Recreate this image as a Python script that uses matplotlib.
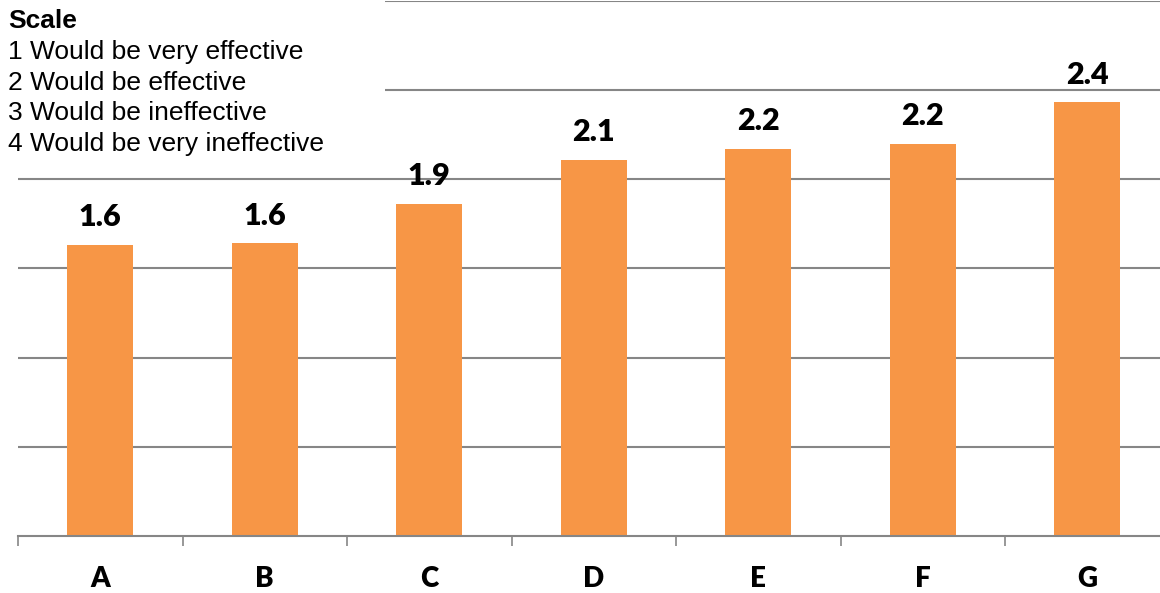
import matplotlib
matplotlib.use("Agg")
import matplotlib.pyplot as plt
from matplotlib.patches import Rectangle

# Mean effectiveness rating per option (1 = very effective ... 4 = very ineffective)
categories = ["A", "B", "C", "D", "E", "F", "G"]
mean_scores = [1.63, 1.64, 1.86, 2.11, 2.17, 2.20, 2.43]

scale_title = "Scale"
scale_lines = [
    "1 Would be very effective",
    "2 Would be effective",
    "3 Would be ineffective",
    "4 Would be very ineffective",
]

W, H = 1160, 593
fig = plt.figure(figsize=(W / 100, H / 100), dpi=100)

# axes spans from x=18px to slightly past the right edge, baseline at y=536px
left, right = 18 / W, 1169.5 / W
bottom, top = (H - 536) / H, (H - 0.8) / H
ax = fig.add_axes([left, bottom, right - left, top - bottom])

bar_color = "#F79646"
grid_color = "#868686"
label_font = "Lato"

x = list(range(len(categories)))
bars = ax.bar(x, mean_scores, width=0.4, color=bar_color, zorder=2)

ax.set_xlim(-0.5, len(categories) - 0.5)
ax.set_ylim(0, 3)
ax.set_yticks([0.5, 1.0, 1.5, 2.0, 2.5, 3.0])
ax.yaxis.grid(True, color=grid_color, linewidth=1.5, zorder=0)
ax.set_axisbelow(True)
ax.tick_params(axis="y", left=False, labelleft=False)

for side in ("left", "right", "top"):
    ax.spines[side].set_visible(False)
ax.spines["bottom"].set_color(grid_color)
ax.spines["bottom"].set_linewidth(1.5)

# category boundary tick marks, labels centred under the bars
ax.set_xticks([i - 0.5 for i in range(len(categories) + 1)])
ax.set_xticklabels([])
ax.set_xticks(x, minor=True)
ax.set_xticklabels(categories, minor=True, fontfamily=label_font,
                   fontweight="heavy", fontsize=20)
ax.tick_params(axis="x", which="major", length=7.5, width=1.2, color=grid_color,
               direction="out")
ax.tick_params(axis="x", which="minor", length=0, pad=21.5)

for rect, val in zip(bars, mean_scores):
    ax.annotate(f"{val:.1f}", (rect.get_x() + rect.get_width() / 2, val),
                xytext=(0, 13.5), textcoords="offset points",
                ha="center", va="baseline", fontfamily=label_font,
                fontweight="heavy", fontsize=22, color="black")

# scale key in a white box over the top-left corner of the chart
fig.add_artist(Rectangle((0, 1 - 160 / H), 385 / W, 160 / H,
                         transform=fig.transFigure, facecolor="white",
                         edgecolor="none", zorder=3))
fig.text(8 / W, 1 - 28 / H, scale_title, fontfamily="Liberation Sans",
         fontweight="bold", fontsize=19, va="baseline", ha="left", zorder=4)
for i, line in enumerate(scale_lines):
    fig.text(8 / W, 1 - (59 + 30.5 * i) / H, line, fontfamily="Liberation Sans",
             fontsize=19, va="baseline", ha="left", zorder=4)

fig.savefig("out.png", dpi=100)
